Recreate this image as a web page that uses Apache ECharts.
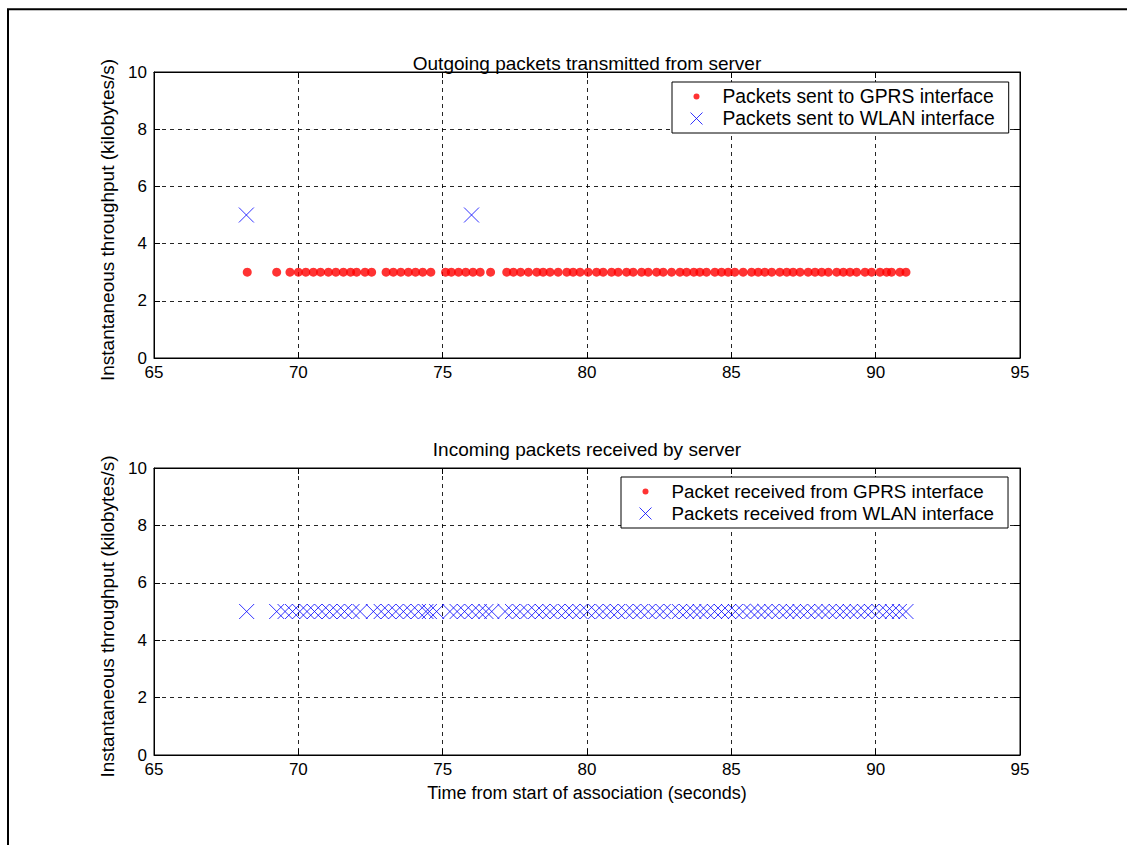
<!DOCTYPE html>
<html>
<head>
<meta charset="utf-8">
<script src="https://cdn.jsdelivr.net/npm/echarts@6/dist/echarts.min.js"></script>
<style>
html,body{margin:0;padding:0;background:#fff;}
#chart{width:1127px;height:845px;}
</style>
</head>
<body>
<div id="chart"></div>
<script>
// ---- Data ----
const xTicks = [65, 70, 75, 80, 85, 90, 95];
const yTicks = [0, 2, 4, 6, 8, 10];

// Top panel: outgoing packets
const outGprsTimes = [68.23, 69.25, 69.71, 70.00, 70.26, 70.52, 70.77, 71.04, 71.30, 71.56, 71.81, 72.02, 72.31, 72.54,
  73.04, 73.29, 73.55, 73.81, 74.06, 74.31, 74.59, 75.10, 75.30, 75.55, 75.80, 76.05, 76.30, 76.66,
  77.22, 77.45, 77.70, 77.97, 78.26, 78.48, 78.72, 79.00, 79.30, 79.52, 79.76, 80.04, 80.33, 80.56,
  80.85, 81.08, 81.37, 81.60, 81.89, 82.12, 82.41, 82.64, 82.93, 83.22, 83.45, 83.70, 83.91, 84.14,
  84.43, 84.66, 84.89, 85.12, 85.41, 85.70, 85.93, 86.16, 86.40, 86.68, 86.92, 87.14, 87.38, 87.66,
  87.90, 88.13, 88.36, 88.65, 88.88, 89.11, 89.34, 89.63, 89.86, 90.15, 90.38, 90.55, 90.84, 91.05];
const outGprsThroughput = 3;
const outWlanTimes = [68.2, 76.0];
const outWlanThroughput = 5;

// Bottom panel: incoming packets
const inGprsTimes = [];
const inGprsThroughput = 0;
const inWlanTimes = [68.21, 69.25, 69.54, 69.80, 70.05, 70.30, 70.56, 70.82, 71.08, 71.34, 71.60, 71.86, 72.14,
  72.60, 72.87, 73.12, 73.38, 73.64, 73.90, 74.16, 74.42, 74.54, 74.79, 75.25, 75.50, 75.76, 76.02, 76.27,
  76.50, 76.70, 77.16, 77.42, 77.68, 77.95, 78.22, 78.46, 78.72, 78.98, 79.26, 79.50, 79.76, 80.02,
  80.30, 80.55, 80.82, 81.06, 81.34, 81.60, 81.86, 82.12, 82.40, 82.64, 82.92, 83.20, 83.45, 83.70,
  83.92, 84.15, 84.42, 84.66, 84.90, 85.14, 85.40, 85.68, 85.92, 86.16, 86.40, 86.66, 86.92, 87.15,
  87.38, 87.64, 87.90, 88.14, 88.38, 88.64, 88.88, 89.12, 89.36, 89.62, 89.86, 90.12, 90.38, 90.58,
  90.82, 91.05];
const inWlanThroughput = 5;

const titles = ['Outgoing packets transmitted from server', 'Incoming packets received by server'];
const names = {
  outGprs: 'Packets sent to GPRS interface',
  outWlan: 'Packets sent to WLAN interface',
  inGprs: 'Packet received from GPRS interface',
  inWlan: 'Packets received from WLAN interface'
};
const yLabel = 'Instantaneous throughput (kilobytes/s)';
const xLabel = 'Time from start of association (seconds)';

// ---- Chart ----
const FONT = "'Liberation Sans', Arial, sans-serif";
const pair = (ts, v) => ts.map(t => [t, v]);
const xMin = xTicks[0], xMax = xTicks[xTicks.length - 1];
const yMin = yTicks[0], yMax = yTicks[yTicks.length - 1];

const grids = [
  {left: 154, right: 107, top: 72, height: 286},
  {left: 154, right: 107, top: 468, height: 287}
];

function mainX(gi, withName) {
  return {
    type: 'value', gridIndex: gi, min: xMin, max: xMax, interval: 5, position: 'bottom',
    axisLine: {show: true, onZero: false, lineStyle: {color: '#000', width: 1}},
    axisTick: {show: true, inside: true, length: 6, lineStyle: {color: '#000'}},
    axisLabel: {show: true, color: '#000', fontSize: 17, fontFamily: FONT, margin: 6},
    splitLine: {show: true, lineStyle: {color: '#000', type: [4, 4], width: 1, opacity: 0.85}},
    name: withName ? xLabel : '', nameLocation: 'middle', nameGap: 29,
    nameTextStyle: {color: '#000', fontSize: 18, fontFamily: FONT}
  };
}
function topX(gi) {
  return {
    type: 'value', gridIndex: gi, min: xMin, max: xMax, interval: 5, position: 'top',
    axisLine: {show: true, onZero: false, lineStyle: {color: '#000', width: 1}},
    axisTick: {show: true, inside: true, length: 6, lineStyle: {color: '#000'}},
    axisLabel: {show: false}, splitLine: {show: false}
  };
}
function mainY(gi) {
  return {
    type: 'value', gridIndex: gi, min: yMin, max: yMax, interval: 2, position: 'left',
    axisLine: {show: true, onZero: false, lineStyle: {color: '#000', width: 1}},
    axisTick: {show: true, inside: true, length: 6, lineStyle: {color: '#000'}},
    axisLabel: {show: true, color: '#000', fontSize: 17, fontFamily: FONT, margin: 7},
    splitLine: {show: true, lineStyle: {color: '#000', type: [4, 4], width: 1, opacity: 0.85}},
    name: yLabel, nameLocation: 'middle', nameGap: 31, nameRotate: 90,
    nameTextStyle: {color: '#000', fontSize: 19, fontFamily: FONT, padding: [0, 10, 0, 0]}
  };
}
function rightY(gi) {
  return {
    type: 'value', gridIndex: gi, min: yMin, max: yMax, interval: 2, position: 'right',
    axisLine: {show: true, onZero: false, lineStyle: {color: '#000', width: 1}},
    axisTick: {show: true, inside: true, length: 6, lineStyle: {color: '#000'}},
    axisLabel: {show: false}, splitLine: {show: false}
  };
}

const X_PATH = 'path://M0,0L10,10M10,0L0,10';
const DOT_ICON = 'path://M0,0M12,12M3,6A3,3 0 1 1 9,6A3,3 0 1 1 3,6Z';
const X_ICON = 'path://M0,0L12,12M12,0L0,12';

function dotSeries(name, xi, data) {
  return {
    type: 'scatter', name, xAxisIndex: xi, yAxisIndex: xi, data,
    symbol: 'circle', symbolSize: 9,
    itemStyle: {color: '#ff0000'}, emphasis: {disabled: true}, animation: false
  };
}
function crossSeries(name, xi, data) {
  return {
    type: 'scatter', name, xAxisIndex: xi, yAxisIndex: xi, data,
    symbol: X_PATH, symbolSize: 15,
    itemStyle: {color: 'none', borderColor: '#0000ff', borderWidth: 1},
    emphasis: {disabled: true}, animation: false
  };
}

function legend(top, left, a, b, fs) {
  return {
    orient: 'vertical', top, left,
    padding: [5, 14, 5, 16], itemGap: 3, itemWidth: 42, itemHeight: 12,
    borderColor: '#000', borderWidth: 1, backgroundColor: '#fff',
    selectedMode: false, symbolKeepAspect: true,
    textStyle: {color: '#000', fontSize: fs, fontFamily: FONT},
    data: [
      {name: a, icon: DOT_ICON, itemStyle: {color: '#ff0000', borderWidth: 0}},
      {name: b, icon: X_ICON, itemStyle: {color: 'none', borderColor: '#0000ff', borderWidth: 1}}
    ]
  };
}

const chart = echarts.init(document.getElementById('chart'), null, {renderer: 'svg', width: 1127, height: 845});
chart.setOption({
  backgroundColor: '#fff',
  animation: false,
  textStyle: {fontFamily: FONT},
  grid: grids.map(g => Object.assign({show: true, borderColor: '#000', borderWidth: 1, backgroundColor: '#fff'}, g)),
  xAxis: [mainX(0, false), topX(0), mainX(1, true), topX(1)],
  yAxis: [mainY(0), rightY(0), mainY(1), rightY(1)],
  legend: [
    legend(82, 672, names.outGprs, names.outWlan, 19.3),
    legend(477, 621, names.inGprs, names.inWlan, 18.8)
  ],
  graphic: [
    {type: 'rect', shape: {x: 8, y: 9.3, width: 1300, height: 1000}, style: {fill: 'none', stroke: '#000', lineWidth: 2}, silent: true, z: -10},
    {type: 'text', x: 587, y: 63, style: {text: titles[0], fill: '#000', font: '19px ' + FONT, textAlign: 'center', textVerticalAlign: 'middle'}},
    {type: 'text', x: 587, y: 449, style: {text: titles[1], fill: '#000', font: '19px ' + FONT, textAlign: 'center', textVerticalAlign: 'middle'}}
  ],
  series: [
    dotSeries(names.outGprs, 0, pair(outGprsTimes, outGprsThroughput)),
    crossSeries(names.outWlan, 0, pair(outWlanTimes, outWlanThroughput)),
    dotSeries(names.inGprs, 2, pair(inGprsTimes, inGprsThroughput)),
    crossSeries(names.inWlan, 2, pair(inWlanTimes, inWlanThroughput))
  ]
});
</script>
</body>
</html>
